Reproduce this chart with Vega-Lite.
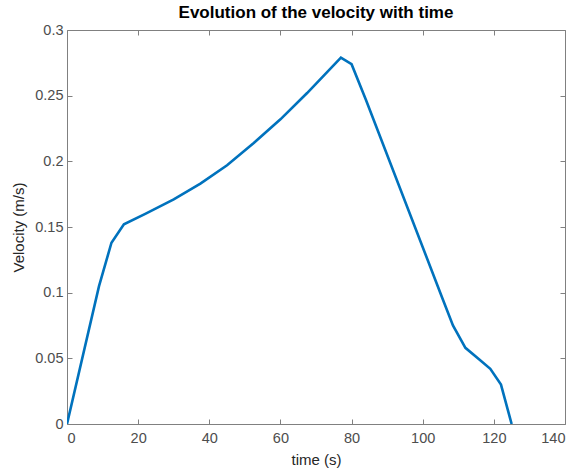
{
  "$schema": "https://vega.github.io/schema/vega-lite/v6.json",
  "width": 498,
  "height": 394,
  "autosize": "none",
  "padding": {"left": 67, "top": 30, "right": 11, "bottom": 47},
  "background": "white",
  "title": {"text": "Evolution of the velocity with time", "font": "Liberation Sans", "fontSize": 17, "fontWeight": "bold", "color": "#000000", "offset": 0},
  "config": {"view": {"stroke": null}},
  "data": {"values": [
    {"t": 0, "v": 0},
    {"t": 9, "v": 0.105},
    {"t": 12.5, "v": 0.138},
    {"t": 16, "v": 0.152},
    {"t": 22, "v": 0.160},
    {"t": 30, "v": 0.171},
    {"t": 37.5, "v": 0.183},
    {"t": 45, "v": 0.197},
    {"t": 52.5, "v": 0.214},
    {"t": 60, "v": 0.232},
    {"t": 67.5, "v": 0.252},
    {"t": 77, "v": 0.279},
    {"t": 80, "v": 0.274},
    {"t": 84, "v": 0.247},
    {"t": 105.5, "v": 0.096},
    {"t": 108.5, "v": 0.075},
    {"t": 112, "v": 0.058},
    {"t": 116, "v": 0.049},
    {"t": 119, "v": 0.042},
    {"t": 122, "v": 0.03},
    {"t": 125, "v": 0}
  ]},
  "layer": [
    {
      "mark": {"type": "line", "color": "#0072BD", "strokeWidth": 2.6, "clip": true},
      "encoding": {
        "x": {"field": "t", "type": "quantitative", "scale": {"domain": [0, 140], "nice": false},
          "axis": {"title": "time (s)", "values": [0, 20, 40, 60, 80, 100, 120, 140], "grid": false, "tickSize": -5, "labelPadding": 12, "domainColor": "#808080", "tickColor": "#808080", "labelColor": "#4d4d4d", "labelFont": "Liberation Sans", "labelFontSize": 14.5, "titleFont": "Liberation Sans", "titleFontSize": 15, "titleFontWeight": "normal", "titleColor": "#262626", "titlePadding": 8}},
        "y": {"field": "v", "type": "quantitative", "scale": {"domain": [0, 0.3], "nice": false},
          "axis": {"title": "Velocity (m/s)", "values": [0, 0.05, 0.1, 0.15, 0.2, 0.25, 0.3], "format": "~g", "grid": false, "tickSize": -5, "labelPadding": 9, "domainColor": "#808080", "tickColor": "#808080", "labelColor": "#4d4d4d", "labelFont": "Liberation Sans", "labelFontSize": 14.5, "titleFont": "Liberation Sans", "titleFontSize": 15, "titleFontWeight": "normal", "titleColor": "#262626", "titlePadding": 8}}
      }
    },
    {
      "mark": {"type": "line", "opacity": 0},
      "encoding": {
        "x": {"field": "t", "type": "quantitative", "scale": {"domain": [0, 140], "nice": false},
          "axis": {"orient": "top", "title": null, "labels": false, "values": [0, 20, 40, 60, 80, 100, 120, 140], "grid": false, "tickSize": -5, "domainColor": "#808080", "tickColor": "#808080"}},
        "y": {"field": "v", "type": "quantitative", "scale": {"domain": [0, 0.3], "nice": false},
          "axis": {"orient": "right", "title": null, "labels": false, "values": [0, 0.05, 0.1, 0.15, 0.2, 0.25, 0.3], "grid": false, "tickSize": -5, "domainColor": "#808080", "tickColor": "#808080"}}
      }
    }
  ],
  "resolve": {"axis": {"x": "independent", "y": "independent"}}
}
